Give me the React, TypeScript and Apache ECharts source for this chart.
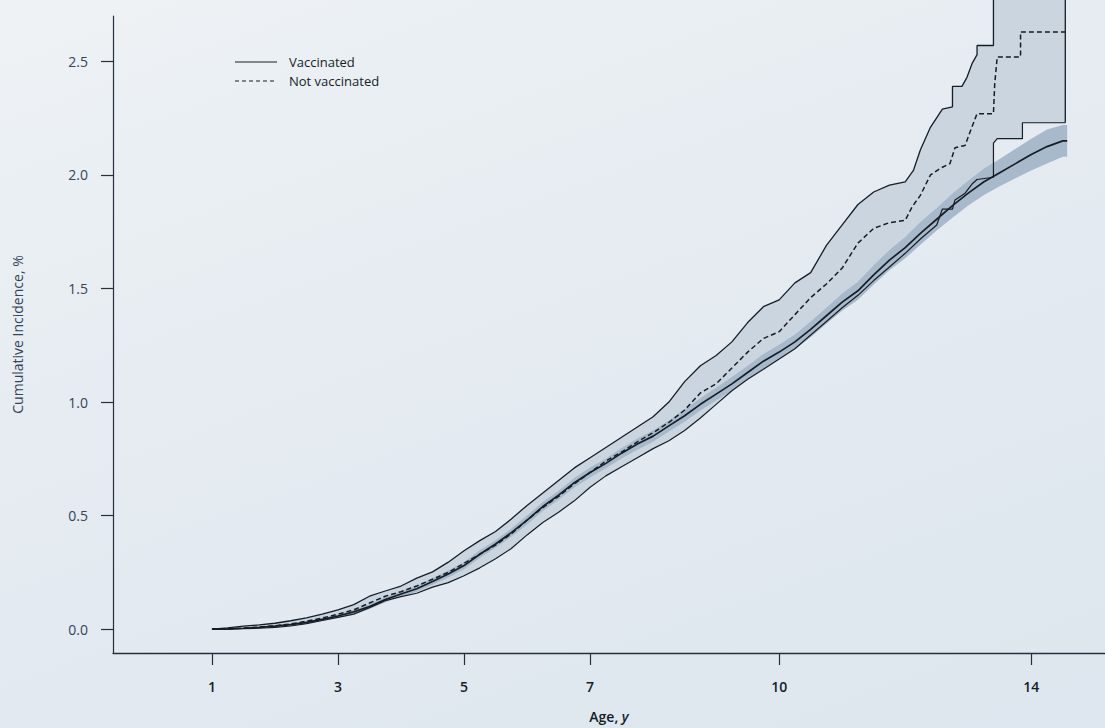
import React, { useEffect, useRef } from "react";
import * as echarts from "echarts";

// ---------- Data ----------
// Vaccinated: cumulative incidence (%) and its 95% band
const vAges = [1, 1.25, 1.5, 1.75, 2, 2.25, 2.5, 2.75, 3, 3.25, 3.5, 3.75, 4, 4.25, 4.5, 4.75, 5, 5.25, 5.5, 5.75, 6, 6.25, 6.5, 6.75, 7, 7.25, 7.5, 7.75, 8, 8.25, 8.5, 8.75, 9, 9.25, 9.5, 9.75, 10, 10.25, 10.5, 10.75, 11, 11.25, 11.5, 11.75, 12, 12.25, 12.5, 12.75, 13, 13.25, 13.5, 13.75, 14, 14.25, 14.5, 14.57];
const vValues = [0, 0.001, 0.004, 0.008, 0.013, 0.02, 0.03, 0.043, 0.058, 0.076, 0.1, 0.13, 0.155, 0.178, 0.21, 0.243, 0.28, 0.33, 0.375, 0.425, 0.48, 0.54, 0.59, 0.645, 0.69, 0.73, 0.775, 0.815, 0.85, 0.895, 0.94, 0.99, 1.035, 1.08, 1.13, 1.18, 1.22, 1.265, 1.32, 1.38, 1.44, 1.49, 1.56, 1.625, 1.68, 1.745, 1.805, 1.865, 1.92, 1.97, 2.01, 2.05, 2.09, 2.125, 2.15, 2.15];
const vLower = [0, 0, 0.002, 0.005, 0.009, 0.015, 0.024, 0.036, 0.05, 0.066, 0.089, 0.118, 0.143, 0.165, 0.196, 0.228, 0.264, 0.313, 0.358, 0.407, 0.46, 0.52, 0.57, 0.624, 0.668, 0.708, 0.752, 0.79, 0.825, 0.87, 0.913, 0.963, 1.007, 1.05, 1.1, 1.148, 1.188, 1.232, 1.285, 1.345, 1.402, 1.45, 1.518, 1.58, 1.633, 1.695, 1.755, 1.812, 1.865, 1.912, 1.95, 1.985, 2.02, 2.05, 2.08, 2.08];
const vUpper = [0, 0.002, 0.006, 0.011, 0.017, 0.025, 0.036, 0.05, 0.066, 0.086, 0.111, 0.142, 0.167, 0.191, 0.224, 0.258, 0.296, 0.347, 0.392, 0.443, 0.5, 0.56, 0.61, 0.666, 0.712, 0.752, 0.798, 0.84, 0.875, 0.92, 0.967, 1.017, 1.063, 1.11, 1.16, 1.212, 1.252, 1.298, 1.355, 1.415, 1.478, 1.53, 1.602, 1.67, 1.727, 1.795, 1.855, 1.918, 1.975, 2.028, 2.07, 2.115, 2.16, 2.2, 2.22, 2.22];

// Not vaccinated: cumulative incidence (%)
const nAges = [1, 1.25, 1.5, 1.75, 2, 2.25, 2.5, 2.75, 3, 3.25, 3.5, 3.75, 4, 4.25, 4.5, 4.75, 5, 5.25, 5.5, 5.75, 6, 6.25, 6.5, 6.75, 7, 7.25, 7.5, 7.75, 8, 8.25, 8.5, 8.75, 9, 9.25, 9.5, 9.75, 10, 10.25, 10.5, 10.75, 11, 11.25, 11.5, 11.75, 12, 12.11, 12.24, 12.4, 12.56, 12.71, 12.79, 12.95, 13.03, 13.14, 13.4, 13.42, 13.46, 13.83, 13.83, 14.54];
const nValues = [0, 0.001, 0.005, 0.009, 0.015, 0.023, 0.035, 0.049, 0.066, 0.085, 0.115, 0.145, 0.165, 0.19, 0.22, 0.25, 0.29, 0.33, 0.37, 0.42, 0.48, 0.535, 0.585, 0.64, 0.69, 0.74, 0.78, 0.825, 0.865, 0.91, 0.965, 1.04, 1.08, 1.15, 1.22, 1.28, 1.31, 1.385, 1.46, 1.52, 1.59, 1.7, 1.765, 1.79, 1.8, 1.86, 1.91, 2.0, 2.03, 2.05, 2.12, 2.13, 2.19, 2.27, 2.27, 2.4, 2.52, 2.52, 2.63, 2.63];

// Not vaccinated: upper bound of the 95% band
const nHiAges = [1, 1.25, 1.5, 1.75, 2, 2.25, 2.5, 2.75, 3, 3.25, 3.5, 3.75, 4, 4.25, 4.5, 4.75, 5, 5.25, 5.5, 5.75, 6, 6.25, 6.5, 6.75, 7, 7.25, 7.5, 7.75, 8, 8.25, 8.5, 8.75, 9, 9.25, 9.5, 9.75, 10, 10.25, 10.5, 10.75, 11, 11.25, 11.5, 11.75, 12, 12.13, 12.24, 12.4, 12.59, 12.75, 12.75, 12.9, 12.98, 13.06, 13.14, 13.14, 13.4, 13.4, 14.54];
const nHiValues = [0, 0.006, 0.013, 0.019, 0.026, 0.037, 0.05, 0.066, 0.085, 0.108, 0.145, 0.168, 0.19, 0.225, 0.252, 0.295, 0.345, 0.39, 0.43, 0.485, 0.545, 0.6, 0.655, 0.71, 0.755, 0.8, 0.845, 0.89, 0.935, 1.0, 1.09, 1.16, 1.205, 1.265, 1.35, 1.42, 1.45, 1.525, 1.57, 1.69, 1.78, 1.87, 1.925, 1.955, 1.97, 2.02, 2.11, 2.21, 2.29, 2.3, 2.39, 2.39, 2.43, 2.49, 2.53, 2.57, 2.57, 2.8, 2.8];

// Not vaccinated: lower bound of the 95% band
const nLoAges = [1, 1.25, 1.5, 1.75, 2, 2.25, 2.5, 2.75, 3, 3.25, 3.5, 3.75, 4, 4.25, 4.5, 4.75, 5, 5.25, 5.5, 5.75, 6, 6.25, 6.5, 6.75, 7, 7.25, 7.5, 7.75, 8, 8.25, 8.5, 8.75, 9, 9.25, 9.5, 9.75, 10, 10.25, 10.5, 10.75, 11, 11.25, 11.5, 11.75, 12, 12.25, 12.5, 12.59, 12.75, 12.79, 12.95, 13.06, 13.14, 13.4, 13.4, 13.46, 13.86, 13.86, 14.54];
const nLoValues = [0, 0, 0.002, 0.004, 0.008, 0.014, 0.024, 0.038, 0.052, 0.066, 0.095, 0.125, 0.143, 0.158, 0.185, 0.205, 0.235, 0.27, 0.31, 0.355, 0.415, 0.47, 0.515, 0.565, 0.625, 0.675, 0.715, 0.755, 0.795, 0.83, 0.875, 0.93, 0.99, 1.05, 1.1, 1.145, 1.19, 1.235, 1.295, 1.355, 1.415, 1.47, 1.535, 1.595, 1.655, 1.72, 1.78, 1.85, 1.85, 1.89, 1.92, 1.96, 1.98, 1.99, 2.14, 2.16, 2.16, 2.23, 2.23];

const yTicks = [0, 0.5, 1.0, 1.5, 2.0, 2.5];
const xTicks = [1, 3, 5, 7, 10, 14];
const legendNames = ["Vaccinated", "Not vaccinated"];

// ---------- Styles ----------
const FONT = "'Open Sans', 'Noto Sans', sans-serif";
const INK = "#151d26";
const LABEL = "#34445a";
const N_BAND = "#cbd5df";
const V_BAND = "#a8b9cb";

const zip = (a: number[], b: number[]) => a.map((x, i) => [x, b[i]] as [number, number]);

function bandSeries(lo: [number, number][], hi: [number, number][], color: string, z: number) {
  return {
    type: "custom",
    coordinateSystem: "cartesian2d",
    data: [[1, 0]],
    clip: false,
    silent: true,
    z,
    renderItem: (_params: any, api: any) => {
      const pts = hi.map((p) => api.coord(p)).concat(lo.slice().reverse().map((p) => api.coord(p)));
      return { type: "polygon", shape: { points: pts }, style: { fill: color, stroke: "none" } };
    },
  };
}

export default function App() {
  const ref = useRef<HTMLDivElement>(null);

  useEffect(() => {
    if (!ref.current) return;
    const chart = echarts.init(ref.current, undefined, { renderer: "svg" });

    const vLine = zip(vAges, vValues);
    const vLo = zip(vAges, vLower);
    const vHi = zip(vAges, vUpper);
    const nLine = zip(nAges, nValues);
    const nHi = zip(nHiAges, nHiValues);
    const nLo = zip(nLoAges, nLoValues);
    const nHiWithEdge = nHi.concat([nLo[nLo.length - 1]]);

    chart.setOption({
      animation: false,
      backgroundColor: "transparent",
      grid: { left: 113, right: 0, top: 16, bottom: 74 },
      graphic: [
        { type: "line", shape: { x1: 235, y1: 62, x2: 277, y2: 62 }, style: { stroke: INK, lineWidth: 1.2 } },
        { type: "line", shape: { x1: 235, y1: 81, x2: 277, y2: 81 }, style: { stroke: INK, lineWidth: 1.2, lineDash: [4, 3] } },
        {
          type: "text",
          x: 289,
          y: 62,
          style: { text: legendNames[0], fill: INK, font: `500 13px ${FONT}`, verticalAlign: "middle" },
        },
        {
          type: "text",
          x: 289,
          y: 81,
          style: { text: legendNames[1], fill: INK, font: `500 13px ${FONT}`, verticalAlign: "middle" },
        },
      ],
      xAxis: {
        type: "value",
        min: -0.57,
        max: 15.17,
        name: "Age, {i|y}",
        nameLocation: "middle",
        nameGap: 56,
        nameTextStyle: {
          fontFamily: FONT,
          fontSize: 14,
          fontWeight: 600,
          color: INK,
          rich: { i: { fontFamily: FONT, fontSize: 14, fontWeight: 600, fontStyle: "italic", color: INK } },
        },
        axisLine: { onZero: false, lineStyle: { color: "#25303c", width: 1.3 } },
        axisTick: { customValues: xTicks, length: 12, lineStyle: { color: "#25303c", width: 1.2 } },
        axisLabel: {
          customValues: xTicks,
          margin: 26,
          fontFamily: FONT,
          fontSize: 14,
          fontWeight: 600,
          color: INK,
          formatter: (v: number) => String(v),
        },
        splitLine: { show: false },
      },
      yAxis: {
        type: "value",
        min: -0.105,
        max: 2.7,
        name: "Cumulative Incidence, %",
        nameLocation: "middle",
        nameGap: 89,
        nameTextStyle: { fontFamily: FONT, fontSize: 14, fontWeight: 500, color: LABEL },
        axisLine: { show: true, onZero: false, lineStyle: { color: "#25303c", width: 1.2 } },
        axisTick: { show: true, customValues: yTicks, length: 12, lineStyle: { color: "#25303c", width: 1.2 } },
        axisLabel: {
          customValues: yTicks,
          margin: 25,
          fontFamily: FONT,
          fontSize: 14,
          fontWeight: 500,
          color: LABEL,
          formatter: (v: number) => v.toFixed(1),
        },
        splitLine: { show: false },
      },
      series: [
        bandSeries(nLo, nHi, N_BAND, 1),
        bandSeries(vLo, vHi, V_BAND, 2),
        {
          name: "nhi",
          type: "line",
          data: nHiWithEdge,
          symbol: "none",
          clip: false,
          silent: true,
          z: 3,
          lineStyle: { color: INK, width: 1.3 },
        },
        {
          name: "nlo",
          type: "line",
          data: nLo,
          symbol: "none",
          silent: true,
          z: 3,
          lineStyle: { color: INK, width: 1.2 },
        },
        {
          name: legendNames[1],
          type: "line",
          data: nLine,
          symbol: "none",
          silent: true,
          z: 4,
          lineStyle: { color: INK, width: 1.5, type: [5, 3] },
        },
        {
          name: legendNames[0],
          type: "line",
          data: vLine,
          symbol: "none",
          silent: true,
          z: 5,
          lineStyle: { color: INK, width: 1.7 },
        },
      ],
    });

    return () => chart.dispose();
  }, []);

  return (
    <div
      ref={ref}
      style={{
        position: "fixed",
        left: 0,
        top: 0,
        width: 1105,
        height: 728,
        background: "linear-gradient(160deg, #eef2f5 0%, #e5ebf1 45%, #dde6ee 100%)",
      }}
    />
  );
}
